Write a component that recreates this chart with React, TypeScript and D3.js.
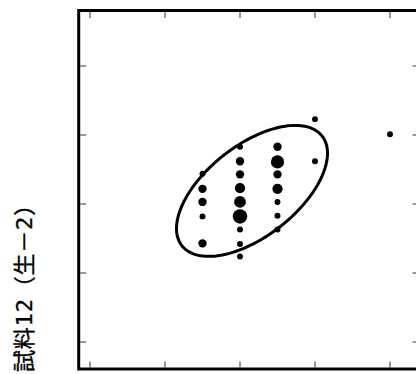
import React from "react";
import * as d3 from "d3";

// axis ticks (unlabelled in the reference)
const xTicks = [0, 1, 2, 3, 4];
const yTicks = [0, 1, 2, 3, 4];

// scatter points: x, y and frequency (bubble size)
const pointX = [
  1.5, 1.5, 1.5, 1.5, 1.5,
  2.0, 2.0, 2.0, 2.0, 2.0, 2.0, 2.0, 2.0, 2.0,
  2.5, 2.5, 2.5, 2.5, 2.5, 2.5, 2.5,
  3.0, 3.0,
  4.0,
];
const pointY = [
  2.44, 2.22, 2.03, 1.82, 1.43,
  2.83, 2.62, 2.43, 2.23, 2.03, 1.82, 1.63, 1.42, 1.24,
  2.83, 2.61, 2.43, 2.22, 2.03, 1.83, 1.63,
  3.23, 2.62,
  3.01,
];
const pointCount = [
  1, 2, 2, 1, 2,
  1, 2, 2, 3, 4, 6, 1, 1, 1,
  2, 5, 2, 3, 1, 1, 1,
  1, 1,
  1,
];

// probability ellipse: centre and semi-axis vectors in data units
const ellipseCenter = [2.16, 2.19];
const ellipseMajor = [0.935, 0.794];
const ellipseMinor = [0.373, -0.52];

const yLabel = "試料12（生－2）";

export default function App() {
  const W = 416;
  const H = 374;
  const frame = { left: 78.7, top: 10.5, right: 420, bottom: 369 };
  const tickLen = 6;

  const x = d3.scaleLinear().domain([0, 4]).range([90, 390]);
  const y = d3.scaleLinear().domain([0, 4]).range([342, 66]);
  const r = d3.scaleSqrt().domain([0, 1]).range([0, 2.95]);

  const ellipsePts: [number, number][] = d3.range(0, 361, 2).map((deg) => {
    const t = (deg * Math.PI) / 180;
    return [
      ellipseCenter[0] + ellipseMajor[0] * Math.cos(t) + ellipseMinor[0] * Math.sin(t),
      ellipseCenter[1] + ellipseMajor[1] * Math.cos(t) + ellipseMinor[1] * Math.sin(t),
    ];
  });
  const ellipsePath =
    d3
      .line<[number, number]>()
      .x((d) => x(d[0]))
      .y((d) => y(d[1]))
      .curve(d3.curveLinearClosed)(ellipsePts) || "";

  const inner = 1.5;

  return (
    <svg
      width={W}
      height={H}
      style={{ position: "absolute", left: 0, top: 0, background: "#fff" }}
    >
      <rect x={0} y={0} width={W} height={H} fill="#fff" />
      {/* ticks */}
      <g stroke="#333" strokeWidth={1}>
        {xTicks.map((t) => (
          <g key={"xt" + t}>
            <line x1={x(t)} x2={x(t)} y1={frame.bottom - inner} y2={frame.bottom - inner - tickLen} />
            <line x1={x(t)} x2={x(t)} y1={frame.top + inner} y2={frame.top + inner + tickLen} />
          </g>
        ))}
        {yTicks.map((t) => (
          <g key={"yt" + t}>
            <line x1={frame.left + inner} x2={frame.left + inner + tickLen} y1={y(t)} y2={y(t)} />
            <line x1={frame.right - inner} x2={frame.right - inner - tickLen} y1={y(t)} y2={y(t)} />
          </g>
        ))}
      </g>
      {/* ellipse */}
      <path d={ellipsePath} fill="none" stroke="#000" strokeWidth={3} />
      {/* points */}
      <g fill="#000">
        {pointX.map((px, i) => (
          <circle key={i} cx={x(px)} cy={y(pointY[i])} r={r(pointCount[i])} />
        ))}
      </g>
      {/* frame */}
      <rect
        x={frame.left}
        y={frame.top}
        width={frame.right - frame.left}
        height={frame.bottom - frame.top}
        fill="none"
        stroke="#000"
        strokeWidth={3}
      />
      {/* y label */}
      <text
        transform={`translate(32, 372) rotate(-90)`}
        fontFamily="'DejaVu Sans Mono', 'Noto Sans CJK JP', monospace"
        fontSize={22}
        letterSpacing={0.8}
        fill="#000"
        stroke="#000"
        strokeWidth={0.35}
        textAnchor="start"
      >
        {yLabel}
      </text>
    </svg>
  );
}
